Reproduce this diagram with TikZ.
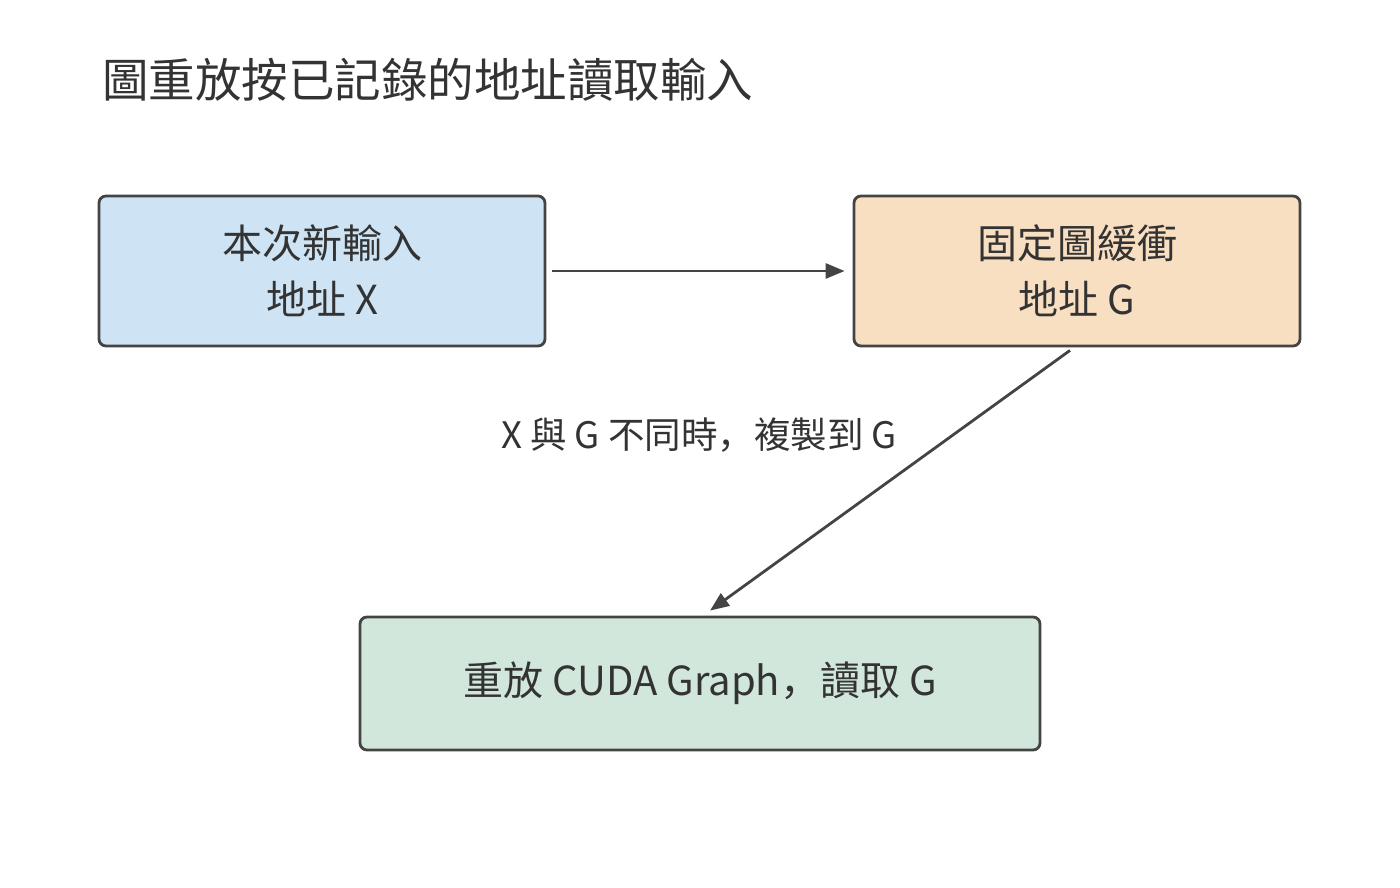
\documentclass[tikz,border=0pt]{standalone}
\usepackage{fontspec}
\setmainfont{Noto Sans CJK SC}
\usetikzlibrary{arrows.meta}
\definecolor{edgecol}{HTML}{444444}
\definecolor{bluefill}{HTML}{CEE3F3}
\definecolor{orangefill}{HTML}{F9DFC2}
\definecolor{greenfill}{HTML}{D1E7DB}
\definecolor{textcol}{HTML}{333333}
\tikzset{
  box/.style={draw=edgecol, line width=2.8pt, rounded corners=7pt, align=center,
    font=\fontsize{40pt}{56pt}\selectfont, text=textcol, inner sep=0pt},
  conn/.style={draw=edgecol, line width=2.8pt, -{Triangle[length=19pt,width=15pt]}},
}
\begin{document}
\begin{tikzpicture}[x=1pt,y=-1pt]
\useasboundingbox (0,0) rectangle (1400,888);
\fill[white] (0,0) rectangle (1400,888);
\node[anchor=west, text=textcol, font=\fontsize{46.5pt}{50pt}\selectfont, inner sep=0pt] (title) at (102,80) {圖重放按已記錄的地址讀取輸入};
\node[box, fill=bluefill, minimum width=446pt, minimum height=150pt] (a) at (322,271) {本次新輸入\\地址 X};
\node[box, fill=orangefill, minimum width=446pt, minimum height=150pt] (b) at (1077,271) {固定圖緩衝\\地址 G};
\node[box, fill=greenfill, minimum width=680pt, minimum height=133pt] (c) at (700,683.5) {重放 CUDA Graph，讀取 G};
\node[text=textcol, font=\fontsize{36.5pt}{40pt}\selectfont, inner sep=0pt] (lbl) at (699,435) {X 與 G 不同時，複製到 G};
\draw[conn] ([xshift=6pt]a.east) -- ([xshift=-8pt]b.west);
\draw[conn] ([xshift=-7pt,yshift=-3pt]b.south) -- ([xshift=10pt,yshift=5pt]c.north);
\end{tikzpicture}
\end{document}
